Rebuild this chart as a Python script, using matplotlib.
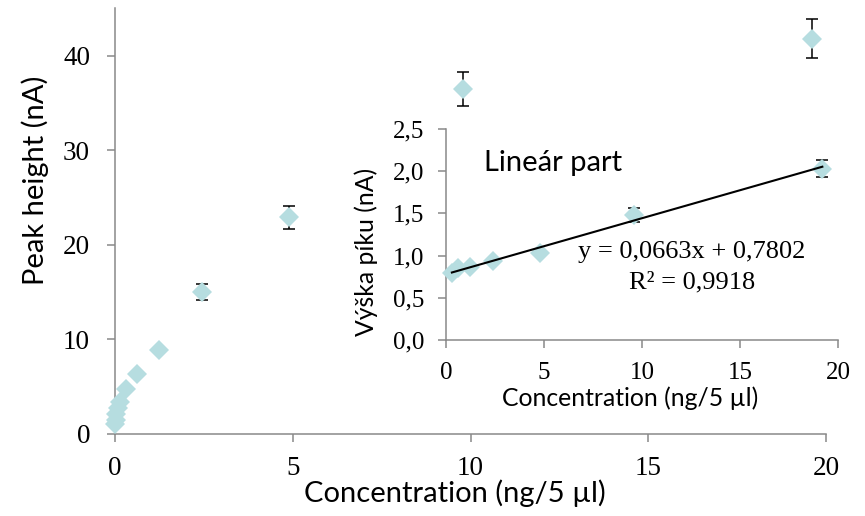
import matplotlib
matplotlib.use("Agg")
import matplotlib.pyplot as plt

# ---- data ----
main_conc = [0.0096, 0.019, 0.038, 0.077, 0.153, 0.306, 0.6125, 1.225, 2.45, 4.9, 9.8, 19.6]
main_peak = [1.0, 1.5, 2.1, 2.7, 3.4, 4.8, 6.3, 8.9, 15.0, 22.9, 36.5, 41.8]
main_err = [0.0, 0.0, 0.0, 0.0, 0.0, 0.0, 0.0, 0.0, 0.8, 1.2, 1.8, 2.1]

inset_conc = [0.3, 0.6, 1.2, 2.4, 4.8, 9.6, 19.2]
inset_peak = [0.80, 0.85, 0.86, 0.94, 1.03, 1.48, 2.03]
inset_err = [0.0, 0.0, 0.0, 0.0, 0.0, 0.08, 0.10]

slope, intercept = 0.0663, 0.7802
eq_text = "y = 0,0663x + 0,7802"
r2_text = "R² = 0,9918"

main_xticks = [0, 5, 10, 15, 20]
main_yticks = [0, 10, 20, 30, 40]
inset_xticks = [0, 5, 10, 15, 20]
inset_yticks = [0.0, 0.5, 1.0, 1.5, 2.0, 2.5]
inset_yticklabels = ["0,0", "0,5", "1,0", "1,5", "2,0", "2,5"]

# ---- style ----
SANS = ["Lato", "DejaVu Sans"]
SERIF = ["Liberation Serif", "DejaVu Serif"]
MK = "#B6DDE0"
SPINE = "#898989"

fig = plt.figure(figsize=(8.65, 5.16), dpi=100)
ax = fig.add_axes([0.133, 0.159, 0.822, 0.825])

def style(a, tsize, tlen, xpad, ypad):
    for s in ("top", "right"):
        a.spines[s].set_visible(False)
    for s in ("left", "bottom"):
        a.spines[s].set_color(SPINE)
        a.spines[s].set_linewidth(1.1)
    a.tick_params(direction="out", length=tlen, width=1.1, color=SPINE,
                  labelsize=tsize, labelcolor="black")
    a.tick_params(axis="x", pad=xpad)
    a.tick_params(axis="y", pad=ypad)
    for lab in a.get_xticklabels() + a.get_yticklabels():
        lab.set_family(SERIF)

ax.errorbar(main_conc, main_peak, yerr=main_err, fmt="none", ecolor="black",
            elinewidth=1.1, capsize=4, capthick=1.1, zorder=2)
ax.plot(main_conc, main_peak, linestyle="none", marker="D", markersize=10.3,
        color=MK, markeredgewidth=0, zorder=3, clip_on=False)
ax.set_xlim(0, 20)
ax.set_ylim(0, 45)
ax.set_xticks(main_xticks)
ax.set_yticks(main_yticks)
style(ax, 19.5, 6, 10, 12)
ax.set_xlabel("Concentration (ng/5 µl)", family=SANS, fontsize=21)
ax.set_ylabel("Peak height (nA)", family=SANS, fontsize=21)
ax.xaxis.set_label_coords(0.478, -0.1385)
ax.xaxis.label.set_va("center")
ax.yaxis.set_label_coords(-0.1125, 0.596)
ax.yaxis.label.set_va("center")

ins = fig.add_axes([0.5156, 0.341, 0.4532, 0.409])
ins.set_facecolor("none")
ins.errorbar(inset_conc, inset_peak, yerr=inset_err, fmt="none", ecolor="black",
             elinewidth=1.1, capsize=4, capthick=1.1, zorder=2)
ins.plot(inset_conc, inset_peak, linestyle="none", marker="D", markersize=10,
         color=MK, markeredgewidth=0, zorder=3, clip_on=False)
xl = [inset_conc[0], inset_conc[-1]]
ins.plot(xl, [slope * x + intercept for x in xl], color="black", linewidth=1.5, zorder=4)
ins.set_xlim(0, 20)
ins.set_ylim(0, 2.5)
ins.set_xticks(inset_xticks)
ins.set_yticks(inset_yticks)
ins.set_yticklabels(inset_yticklabels)
style(ins, 18, 5.5, 10, 10)
ins.set_xlabel("Concentration (ng/5 µl)", family=SANS, fontsize=17.8)
ins.set_ylabel("Výška píku (nA)", family=SANS, fontsize=17.8)
ins.xaxis.set_label_coords(0.469, -0.275)
ins.xaxis.label.set_va("center")
ins.yaxis.set_label_coords(-0.204, 0.419)
ins.yaxis.label.set_va("center")

ins.text(1.95, 2.10, "Lineár part", family=SANS, fontsize=21, ha="left", va="center")
ins.text(12.55, 1.043, eq_text, family=SERIF, fontsize=19, ha="center", va="center")
ins.text(12.55, 0.687, r2_text, family=SERIF, fontsize=19, ha="center", va="center")

fig.savefig("out.png", dpi=100)
